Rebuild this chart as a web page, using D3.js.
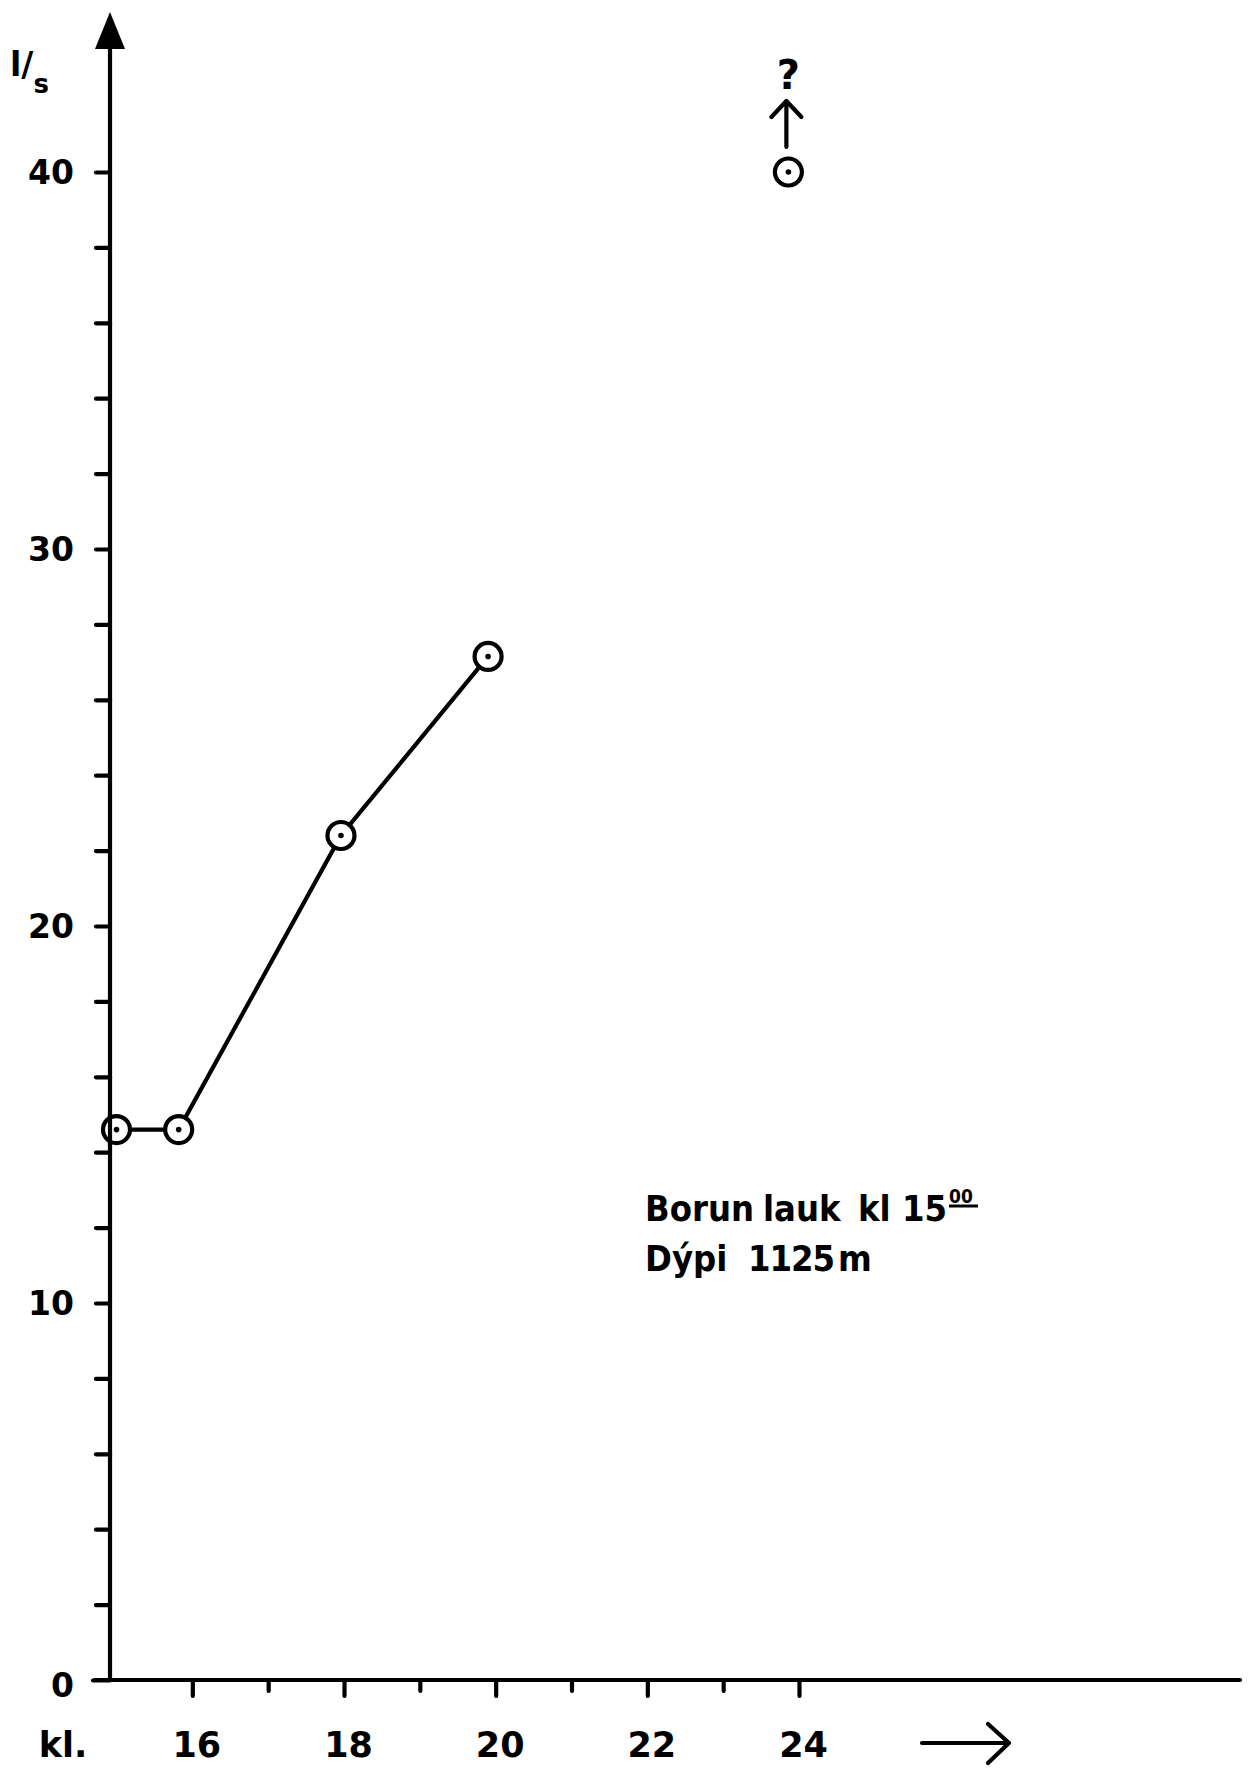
<!DOCTYPE html>
<html>
<head>
<meta charset="utf-8">
<script src="https://cdn.jsdelivr.net/npm/d3@7"></script>
<style>
  html, body { margin: 0; padding: 0; background: #fff; }
  svg { display: block; }
  text { font-family: "DejaVu Sans", sans-serif; font-weight: bold; fill: #000; }
  .note { font-family: "DejaVu Sans Condensed", "DejaVu Sans", sans-serif; font-stretch: condensed; }
</style>
</head>
<body>
<svg id="chart" width="1250" height="1771"></svg>
<script>
// ---- data ----
const times = [15.0, 15.82, 17.96, 19.9];      // kl. (hour of day)
const flows = [14.6, 14.6, 22.4, 27.15];       // l/s
const outlierTime = [23.86];
const outlierFlow = [40];
const xTickValues = [16, 17, 18, 19, 20, 21, 22, 23, 24];
const xTickLabels = ["16", "18", "20", "22", "24"];
const yTickValues = [0, 2, 4, 6, 8, 10, 12, 14, 16, 18, 20, 22, 24, 26, 28, 30, 32, 34, 36, 38, 40];
const yTickLabels = ["0", "10", "20", "30", "40"];
const noteLine1 = ["Borun", "lauk", "kl", "15"];
const noteSup = "00";
const noteLine2 = ["Dýpi", "1125", "m"];

// ---- layout ----
const svg = d3.select("#chart");
const x = d3.scaleLinear().domain([15, 24]).range([116.5, 799]);
const y = d3.scaleLinear().domain([0, 40]).range([1680, 172]);
const axisX = 110;          // y-axis position
const sw = 4.2;

// y axis ticks via d3.axisLeft
const yAxis = d3.axisLeft(y)
  .tickValues(yTickValues)
  .tickSize(14)
  .tickFormat(d => yTickLabels.includes(String(d)) ? String(d) : "");
const gy = svg.append("g").attr("transform", `translate(${axisX},0)`).call(yAxis);
gy.select(".domain").remove();
gy.selectAll(".tick line").attr("stroke", "#000").attr("stroke-width", sw).attr("stroke-linecap", "round");
gy.selectAll(".tick text")
  .attr("x", -36).attr("dy", "0.36em")
  .style("font-size", "33px").style("font-family", "DejaVu Sans, sans-serif").style("font-weight", "bold")
  .attr("fill", "#000");
gy.selectAll(".tick").filter(d => d === 0).select("line").attr("x2", -17);
gy.selectAll(".tick").filter(d => d === 0).select("text").attr("dy", "0.5em");

// x axis ticks via d3.axisBottom
const xAxis = d3.axisBottom(x)
  .tickValues(xTickValues)
  .tickSize(16)
  .tickFormat(d => xTickLabels.includes(String(d)) ? String(d) : "");
const gx = svg.append("g").attr("transform", `translate(0,${y(0)})`).call(xAxis);
gx.select(".domain").remove();
gx.selectAll(".tick line").attr("stroke", "#000").attr("stroke-width", sw).attr("stroke-linecap", "round")
  .attr("y2", d => (d % 2 === 0) ? 16 : 11);
gx.selectAll(".tick text")
  .attr("y", 77).attr("x", 4).attr("dy", "0")
  .style("font-size", "35px").style("font-family", "DejaVu Sans, sans-serif").style("font-weight", "bold")
  .attr("fill", "#000");

// axis lines
svg.append("line")
  .attr("x1", axisX - 15).attr("x2", 1240)
  .attr("y1", y(0)).attr("y2", y(0))
  .attr("stroke", "#000").attr("stroke-width", sw).attr("stroke-linecap", "round");
svg.append("line")
  .attr("x1", axisX).attr("x2", axisX)
  .attr("y1", y(0)).attr("y2", 40)
  .attr("stroke", "#000").attr("stroke-width", sw);
svg.append("path")
  .attr("d", `M${axisX - 15},${49} L${axisX},${12} L${axisX + 15},${49} Z`)
  .attr("fill", "#000");

// y unit label "l/s" (one text element)
const unit = svg.append("text").attr("x", 10).attr("y", 76).style("font-size", "33px");
unit.append("tspan").text("l/");
unit.append("tspan").attr("dy", 17).style("font-size", "26px").text("s");

// x label "kl."
svg.append("text").attr("x", 63).attr("y", 1757).attr("text-anchor", "middle")
  .style("font-size", "35px").text("kl.");

// bottom arrow
const ay = 1743;
svg.append("path")
  .attr("d", `M922,${ay} L1009,${ay} M988,${ay - 19} L1009,${ay} L988,${ay + 20}`)
  .attr("fill", "none").attr("stroke", "#000").attr("stroke-width", sw)
  .attr("stroke-linecap", "round").attr("stroke-linejoin", "round");

// data line
const pts = times.map((t, i) => [t, flows[i]]);
svg.append("path")
  .datum(pts)
  .attr("d", d3.line().x(d => x(d[0])).y(d => y(d[1])))
  .attr("fill", "none").attr("stroke", "#000").attr("stroke-width", sw);

// markers
const allPts = pts.concat(outlierTime.map((t, i) => [t, outlierFlow[i]]));
const mk = svg.append("g").selectAll("g").data(allPts).join("g")
  .attr("transform", d => `translate(${x(d[0])},${y(d[1])})`);
mk.append("circle").attr("r", 13.5).attr("fill", "#fff").attr("stroke", "#000").attr("stroke-width", sw);
mk.append("circle").attr("r", 2.8).attr("fill", "#000");
svg.append("line")
  .attr("x1", axisX).attr("x2", axisX)
  .attr("y1", y(flows[0]) - 16).attr("y2", y(flows[0]) + 16)
  .attr("stroke", "#000").attr("stroke-width", sw);

// outlier arrow and question mark
const ox = x(outlierTime[0]) - 2, oy = y(outlierFlow[0]);
svg.append("path")
  .attr("d", `M${ox},${oy - 25} L${ox},${oy - 70} M${ox - 15},${oy - 55} L${ox},${oy - 71} L${ox + 15},${oy - 55}`)
  .attr("fill", "none").attr("stroke", "#000").attr("stroke-width", sw)
  .attr("stroke-linecap", "round").attr("stroke-linejoin", "round");
svg.append("text").attr("x", ox + 2).attr("y", oy - 83).attr("text-anchor", "middle")
  .style("font-size", "40px").text("?");

// note text: one text element per line, words placed with tspans
const l1x = [645, 763, 858, 902];
const t1 = svg.append("text").attr("class", "note").attr("y", 1221).style("font-size", "36px");
noteLine1.forEach((w, i) => t1.append("tspan").attr("x", l1x[i]).text(w));
t1.append("tspan").attr("x", 949).attr("dy", -18).style("font-size", "19px").text(noteSup);
svg.append("line").attr("x1", 949).attr("x2", 978).attr("y1", 1206).attr("y2", 1206)
  .attr("stroke", "#000").attr("stroke-width", 3);
const l2x = [645, 748, 838];
const t2 = svg.append("text").attr("class", "note").attr("y", 1271).style("font-size", "36px");
noteLine2.forEach((w, i) => t2.append("tspan").attr("x", l2x[i])
  .style("letter-spacing", w === "1125" ? "-1px" : null).text(w));
</script>
</body>
</html>
